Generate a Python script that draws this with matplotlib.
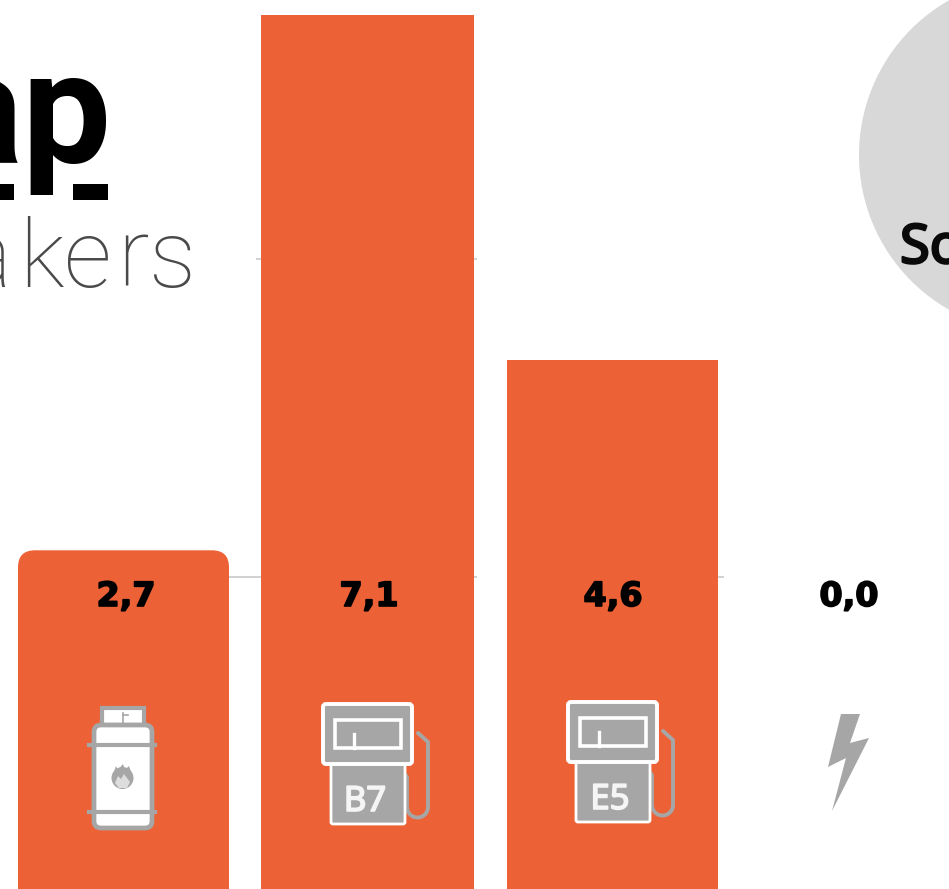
import matplotlib
matplotlib.use('Agg')
import matplotlib.pyplot as plt
import matplotlib.patheffects as pe
from matplotlib.patches import Rectangle, FancyBboxPatch, Circle, Polygon
import numpy as np

orange = '#EC6236'
icon_gray = '#A6A6A6'

value_labels = ['2,7', '7,1', '4,6', '0,0']
bar_heights = [2.71, 6.92, 4.205, 0.0]
bar_lefts = [18, 261, 507, 750]
bar_widths = [211, 213, 211, 211]
label_x = [126, 369, 613, 849]

W, H = 949, 889
fig = plt.figure(figsize=(W / 100, H / 100), dpi=100)
fig.patch.set_facecolor('white')

# value axis: y=2.5 sits at pixel 577, y=5 at pixel 259
ax = fig.add_axes([0, 0, 1, 1])
px_per_unit = (577 - 259) / 2.5
zero_px = 577 + 2.5 * px_per_unit
ax.set_xlim(0, W)
ax.set_ylim((zero_px - H) / px_per_unit, zero_px / px_per_unit)
ax.axis('off')

# gridline stubs
ax.hlines(5, 256, 477, color='#C9C9C9', lw=1.2, zorder=1)
ax.hlines(2.5, 229, 477, color='#C9C9C9', lw=1.2, zorder=1)
ax.hlines(2.5, 718, 724, color='#C9C9C9', lw=1.2, zorder=1)

bottom = ax.get_ylim()[0]
for i in [1, 2]:
    ax.bar(bar_lefts[i], bar_heights[i] - bottom, bar_widths[i], bottom=bottom,
           align='edge', color=orange, zorder=2)

# first bar has rounded top corners, its bottom runs past the figure
rad_x = 17
aspect = 1 / px_per_unit
ax.add_patch(FancyBboxPatch((bar_lefts[0] + rad_x, bottom - 1), bar_widths[0] - 2 * rad_x,
                            bar_heights[0] - bottom + 1 - rad_x * aspect,
                            boxstyle='round,pad=%f,rounding_size=%f' % (rad_x, rad_x),
                            mutation_aspect=aspect, fc=orange, ec='none', zorder=2))

# overlay in pixel coordinates for logo, circle and icons
ov = fig.add_axes([0, 0, 1, 1])
ov.set_xlim(0, W)
ov.set_ylim(H, 0)
ov.axis('off')
ov.patch.set_alpha(0)

# circle at the right edge
ov.add_patch(Circle((1037, 155), 178, fc='#D8D8D8', ec='none', zorder=1))
ov.text(900, 263, 'So', fontsize=39, family='Noto Sans', color='#0A0A0A',
        va='baseline', ha='left', zorder=3,
        path_effects=[pe.withStroke(linewidth=1.8, foreground='#0A0A0A')])

# logo, cut off by the left edge
ov.text(-62, 163, 'ap', fontsize=114, family='Roboto', weight='bold', color='black',
        va='baseline', ha='left', zorder=3)
ov.add_patch(Rectangle((73, 184), 35, 16, fc='black', ec='none', zorder=3))
ov.add_patch(Rectangle((-5, 184), 19, 16, fc='black', ec='none', zorder=3))
ov.text(-38, 287, 'a', fontsize=68, family='Roboto', weight='light', color='#4A4A4A',
        va='baseline', ha='left', zorder=3)
for ch, x in zip('kers', [41, 88, 133, 173]):
    ov.text(x, 287, ch, fontsize=68, family='Roboto', weight='light', color='#4A4A4A',
            va='baseline', ha='center', zorder=3)

for lab, x in zip(value_labels, label_x):
    ov.text(x, 606, lab, fontsize=24, family='DejaVu Sans', weight='bold', color='black',
            ha='center', va='baseline', zorder=5,
            path_effects=[pe.withStroke(linewidth=1.2, foreground='black')])


def rbox(x0, y0, x1, y1, r, **kw):
    ov.add_patch(FancyBboxPatch((x0 + r, y0 + r), x1 - x0 - 2 * r, y1 - y0 - 2 * r,
                                boxstyle='round,pad=%f,rounding_size=%f' % (r, r), **kw))


def pump(dx, dy, label):
    # hose
    t = np.linspace(0, np.pi, 30)
    hx = np.concatenate([[418 + dx, 428 + dx], 417.5 + dx + 10.5 * np.cos(t),
                         [407 + dx, 404 + dx]])
    hy = np.concatenate([[733 + dy, 742 + dy], 807 + dy + 10.5 * np.sin(t),
                         [777 + dy, 773 + dy]])
    ov.plot(hx, hy, color=icon_gray, lw=2.8, solid_capstyle='round', zorder=4)
    # lower body
    rbox(331 + dx, 760 + dy, 405 + dx, 824 + dy, 2, fc=icon_gray, ec='white', lw=2, zorder=5)
    # head
    rbox(323 + dx, 704 + dy, 412 + dx, 764 + dy, 3, fc=icon_gray, ec='white', lw=2.8, zorder=6)
    ov.add_patch(Rectangle((335 + dx, 720 + dy), 66, 28, fc=icon_gray, ec='white', lw=2.6, zorder=7))
    ov.plot([354 + dx, 354 + dx], [734 + dy, 748 + dy], color='white', lw=2.4, zorder=8)
    ov.text(365 + dx, 811 + dy, label, fontsize=25, family='Noto Sans',
            color='#F5F5F5', ha='center', va='baseline', zorder=8,
            path_effects=[pe.withStroke(linewidth=1.2, foreground='#F5F5F5')])


pump(0, 0, 'B7')
pump(245, -2, 'E5')

# gas bottle
ov.add_patch(Rectangle((102, 708), 42, 17, fc='white', ec=icon_gray, lw=3, zorder=4))
ov.plot([123, 123], [713, 723], color=icon_gray, lw=1.2, zorder=5)
ov.plot([123, 128], [715, 715], color=icon_gray, lw=1.2, zorder=5)
rbox(94, 725, 152, 828, 7, fc='white', ec=icon_gray, lw=3.4, zorder=5)
ov.plot([89, 155], [745, 745], color=icon_gray, lw=3, zorder=6)
ov.plot([89, 155], [812, 812], color=icon_gray, lw=3, zorder=6)
ov.add_patch(Circle((122.5, 778), 11, fc=icon_gray, ec='none', zorder=6))
flame = [(114, 772), (116, 766), (118, 770), (123, 764), (125, 770), (129, 766), (131, 772)]
ov.add_patch(Polygon(flame, fc=icon_gray, ec='none', zorder=6))
inner = [(115, 783), (118, 776), (121, 779), (124, 774), (130, 782), (127, 788), (119, 788)]
ov.add_patch(Polygon(inner, fc='#DDDDDD', ec='none', zorder=7))

# lightning bolt for the electric column
bolt = [(841, 714), (860, 714), (850, 743), (869, 738), (832, 811), (846, 758), (828, 767)]
ov.add_patch(Polygon(bolt, fc=icon_gray, ec='none', zorder=4))

fig.savefig('out.png', dpi=100, facecolor='white')
